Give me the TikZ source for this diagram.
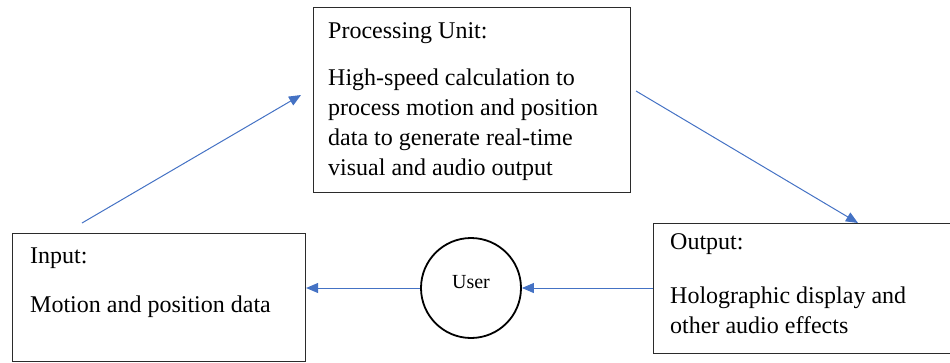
\documentclass[tikz,border=0pt]{standalone}
\usepackage{fontspec}
\setmainfont{Liberation Serif}
\usetikzlibrary{arrows.meta}
\definecolor{arrowblue}{HTML}{4472C4}
\definecolor{boxline}{HTML}{2B2B2B}
\tikzset{
  box/.style={draw=boxline, line width=1.1pt, anchor=north west, inner sep=0pt},
  txt/.style={anchor=base west, inner sep=0pt, font=\fontsize{24}{30}\selectfont},
  flow/.style={draw=arrowblue, line width=1pt, -{Triangle[length=12pt,width=10pt]}},
  usercircle/.style={draw=black, line width=1.8pt, circle, minimum size=100pt, inner sep=0pt}
}
\begin{document}
\begin{tikzpicture}[x=1pt,y=-1pt]
\useasboundingbox (0,0) rectangle (950,362);
% boxes
\node[box, minimum width=293pt, minimum height=128pt] (input) at (12,233) {};
\node[box, minimum width=317pt, minimum height=185pt] (proc) at (313,7) {};
\node[box, minimum width=300pt, minimum height=130pt] (output) at (653,223) {};
\node[usercircle] (user) at (471,288) {};
% texts
\node[txt] (inputT) at (30,263) {Input:};
\node[txt] (inputB) at (30,312) {Motion and position data};
\node[txt] (procT) at (328,38) {Processing Unit:};
\node[txt] (procB1) at (328,85) {High-speed calculation to};
\node[txt] (procB2) at (328,115) {process motion and position};
\node[txt] (procB3) at (328,145) {data to generate real-time};
\node[txt] (procB4) at (328,175) {visual and audio output};
\node[txt] (outT) at (670,249) {Output:};
\node[txt] (outB1) at (670,303) {Holographic display and};
\node[txt] (outB2) at (670,333) {other audio effects};
\node[anchor=base, inner sep=0pt, font=\fontsize{20}{24}\selectfont] (userT) at (471,288) {User};
% connector endpoints
\coordinate (a1) at (82,223);
\coordinate (a2) at (301,95);
\coordinate (b1) at (636,91);
\coordinate (b2) at (858,223);
% connectors
\draw[flow] (a1) -- (a2);
\draw[flow] (b1) -- (b2);
\draw[flow] (output.west |- user.center) -- (user.east);
\draw[flow] (user.west) -- (input.east |- user.center);
\end{tikzpicture}
\end{document}
